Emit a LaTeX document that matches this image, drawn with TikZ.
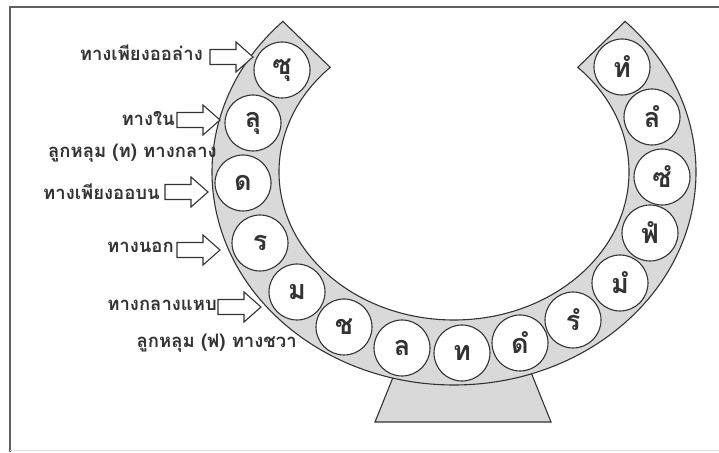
\documentclass[tikz,border=0pt]{standalone}
\usepackage{fontspec}
\newfontfamily\thaifont[Script=Thai]{Loma}
\usetikzlibrary{calc}
\definecolor{bandgray}{HTML}{D9D9D9}
\definecolor{ink}{HTML}{333333}
\newcommand\blockarrow[1]{\draw[arrowshape] ($(#1)+(0,7.5)$) -- ++(26,0) -- ++(0,7.5) -- ++(17,-15) -- ++(-17,-15) -- ++(0,7.5) -- ++(-26,0) -- cycle;}
\begin{document}
\begin{tikzpicture}[x=1pt,y=1pt,
  outline/.style={draw=ink, line width=1.1pt},
  letter/.style={circle, draw=ink, line width=1.1pt, fill=white, minimum size=56pt, inner sep=0pt, font=\thaifont\bfseries\fontsize{27}{27}\selectfont, text=ink},
  lbl/.style={anchor=east, inner sep=0pt, font=\thaifont\bfseries\fontsize{18.5}{18.5}\selectfont, text=ink},
  arrowshape/.style={draw=ink, line width=1.1pt, fill=white, line join=miter}]
\useasboundingbox (0,0) rectangle (719,452);
% frame
\draw[draw=gray!75!black, line width=2pt] (10,0) -- (10,445) -- (719,445);
\draw[draw=gray!25, line width=1pt] (10,2) -- (719,2);
% stand
\path[outline, fill=bandgray] (375,30) -- (400,92) -- (526,92) -- (551,30) -- cycle;
% band
\coordinate (C) at (454,280);
\path[outline, fill=bandgray] ($(C)+(135:242pt and 213pt)$) arc[start angle=135, end angle=405, x radius=242pt, y radius=213pt] -- ($(C)+(45:175pt and 148pt)$) arc[start angle=45, end angle=-225, x radius=175pt, y radius=148pt] -- cycle;
% circles
\node[letter] (c1) at (282,382) {ซุ};
\node[letter] (c2) at (253,329) {ลุ};
\node[letter] (c3) at (243,269) {ด};
\node[letter] (c4) at (260,209) {ร};
\node[letter] (c5) at (297,160) {ม};
\node[letter] (c6) at (344,125) {ช};
\node[letter] (c7) at (402,104) {ล};
\node[letter] (c8) at (462,99) {ท};
\node[letter] (c9) at (520,109) {ดํ};
\node[letter] (c10) at (573,132) {รํ};
\node[letter] (c11) at (620,169) {มํ};
\node[letter] (c12) at (650,219) {ฟํ};
\node[letter] (c13) at (662,275) {ซํ};
\node[letter] (c14) at (652,335) {ลํ};
\node[letter] (c15) at (622,385) {ทํ};
% arrows
\coordinate (a1) at (210,395);
\coordinate (a2) at (177,332);
\coordinate (a4) at (165,260);
\coordinate (a5) at (177,202);
\coordinate (a6) at (218,145);
\blockarrow{a1}
\blockarrow{a2}
\blockarrow{a4}
\blockarrow{a5}
\blockarrow{a6}
% labels
\node[lbl] (l1) at (203,399) {ทางเพียงออล่าง};
\node[lbl] (l2) at (175,334) {ทางใน};
\node[lbl] (l3) at (217,299) {ลูกหลุม (ท) ทางกลาง};
\node[lbl] (l4) at (160,260) {ทางเพียงออบน};
\node[lbl] (l5) at (174,205) {ทางนอก};
\node[lbl] (l6) at (217,147) {ทางกลางแหบ};
\node[lbl] (l7) at (297,109) {ลูกหลุม (ฟ) ทางชวา};
\end{tikzpicture}
\end{document}
